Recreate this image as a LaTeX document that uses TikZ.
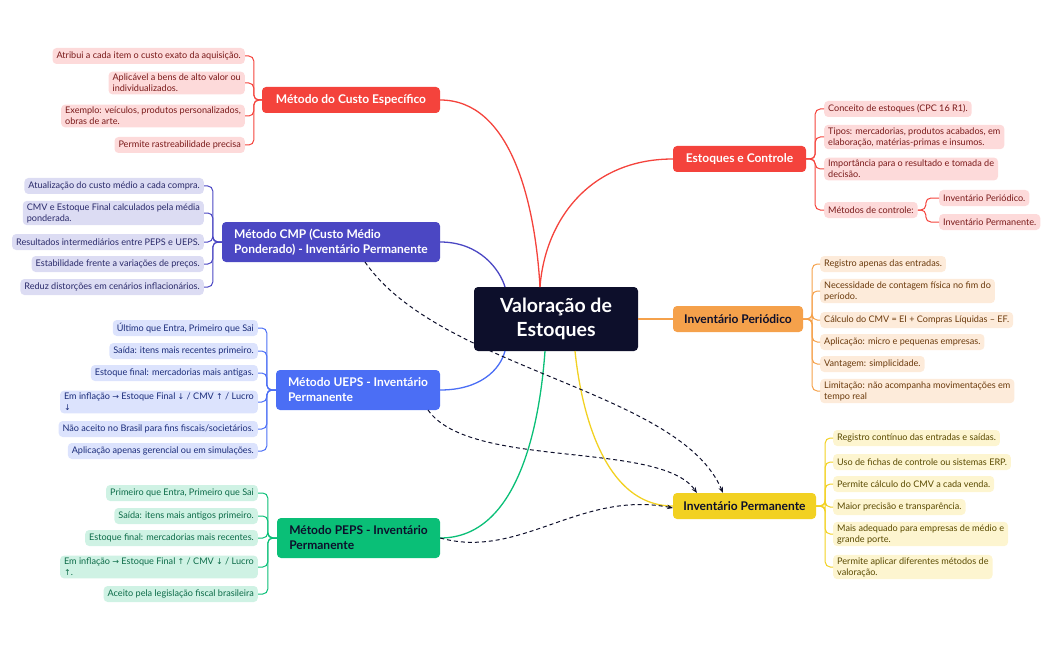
\documentclass[tikz,border=0pt]{standalone}
\usepackage{fontspec}
\setmainfont{Lato}
\newfontfamily\symf{DejaVu Sans}
\newcommand{\ar}[1]{{\symf\fontsize{8}{10}\selectfont #1}}
\usetikzlibrary{arrows.meta}
\definecolor{cred}{HTML}{F4433C}\definecolor{lred}{HTML}{FDDADA}\definecolor{tred}{HTML}{7A1A1A}
\definecolor{cpur}{HTML}{4B47C3}\definecolor{lpur}{HTML}{DCDCF3}\definecolor{tpur}{HTML}{2A2A6A}
\definecolor{cblu}{HTML}{4B6EF5}\definecolor{lblu}{HTML}{DCE3FD}\definecolor{tblu}{HTML}{1B2C7A}
\definecolor{cgre}{HTML}{0ABF77}\definecolor{lgre}{HTML}{CFF2E4}\definecolor{tgre}{HTML}{0C6B48}
\definecolor{cora}{HTML}{F5A14B}\definecolor{lora}{HTML}{FDEBDA}\definecolor{tora}{HTML}{6B3A0C}
\definecolor{cyel}{HTML}{F2D122}\definecolor{lyel}{HTML}{FDF5D0}\definecolor{tyel}{HTML}{5A4A00}
\definecolor{navy}{HTML}{0D0F2B}
\begin{document}
\begin{tikzpicture}[x=1pt,y=-1pt,
 leaf/.style={rounded corners=4pt,inner xsep=4pt,inner ysep=2.5pt,minimum height=16pt,align=left,font=\fontsize{9.1}{11}\selectfont},
 mainbox/.style={rounded corners=4pt,inner xsep=8pt,inner ysep=4pt,minimum height=26pt,align=left,font=\fontsize{12}{15}\selectfont\bfseries},
 br/.style={rounded corners=5pt,line width=1pt},
 dasharrow/.style={dash pattern=on 4pt off 3pt,line width=1pt,navy,-{Stealth[length=6pt]}}]
\useasboundingbox (0,0) rectangle (1050,650);
% root
\node[fill=navy,text=white,rounded corners=4pt,minimum width=164pt,minimum height=64pt,align=center,font=\fontsize{19.5}{24}\selectfont\bfseries] (root) at (556,319) {Valoração de\\Estoques};
% main nodes
\node[mainbox,fill=cred,text=white,minimum width=178pt,align=center] (ce) at (351,100) {Método do Custo Específico};
\node[mainbox,fill=cpur,text=white,minimum width=218pt,minimum height=40pt] (cmp) at (331,242) {Método CMP (Custo Médio\\Ponderado) - Inventário Permanente};
\node[mainbox,fill=cblu,text=white,minimum width=164pt,minimum height=40pt] (ue) at (358,390) {Método UEPS - Inventário\\Permanente};
\node[mainbox,fill=cgre,text=navy,minimum width=163pt,minimum height=40pt] (pe) at (358.5,538) {Método PEPS - Inventário\\Permanente};
\node[mainbox,fill=cred,text=white,minimum width=133pt,align=center] (ec) at (739.5,159) {Estoques e Controle};
\node[mainbox,fill=cora,text=navy,minimum width=130pt,align=center] (ip) at (738,319) {Inventário Periódico};
\node[mainbox,fill=cyel,text=navy,minimum width=143pt,align=center] (iv) at (744.5,506) {Inventário Permanente};
% root links
\draw[cred,line width=1.3pt] (ce.east) .. controls (510,100) and (535,200) .. (540,287);
\draw[cpur,line width=1.3pt] (cmp.east) .. controls (480,242) and (500,270) .. (505,287);
\draw[cblu,line width=1.3pt] (ue.east) .. controls (480,390) and (500,370) .. (505,351);
\draw[cgre,line width=1.3pt] (pe.east) .. controls (520,538) and (540,420) .. (545,351);
\draw[cred,line width=1.3pt] (ec.west) .. controls (590,159) and (545,220) .. (540,287);
\draw[cora,line width=1.3pt] (root.east) -- (ip.west);
\draw[cyel,line width=1.3pt] (iv.west) .. controls (600,506) and (580,400) .. (575,351);
% dashed arrows
\coordinate (s1) at (365,262);
\coordinate (s2) at (428,410);
\coordinate (t1) at (723,493);
\coordinate (t2) at (697,493);
\coordinate (t3) at (673,508);
\draw[dasharrow] (s1) .. controls (440,370) and (680,390) .. (t1);
\draw[dasharrow] (s2) .. controls (470,470) and (660,440) .. (t2);
\draw[dasharrow] (pe.east) .. controls (520,560) and (580,490) .. (t3);
% Custo leaves
\begin{scope}[every node/.style={leaf,fill=lred,text=tred,anchor=east}]
\node (a1) at (245,56) {Atribui a cada item o custo exato da aquisição.};
\node (a2) at (245,83) {Aplicável a bens de alto valor ou\\individualizados.};
\node (a3) at (245,116) {Exemplo: veículos, produtos personalizados,\\obras de arte.};
\node (a4) at (245,145) {Permite rastreabilidade precisa};
\end{scope}
\foreach \n in {a1,a2,a3,a4} \draw[br,cred] (ce.west) -- ++(-8,0) |- (\n.east);
% CMP leaves
\begin{scope}[every node/.style={leaf,fill=lpur,text=tpur,anchor=east}]
\node (b1) at (204,186) {Atualização do custo médio a cada compra.};
\node (b2) at (204,213) {CMV e Estoque Final calculados pela média\\ponderada.};
\node (b3) at (204,242) {Resultados intermediários entre PEPS e UEPS.};
\node (b4) at (204,264) {Estabilidade frente a variações de preços.};
\node (b5) at (204,287) {Reduz distorções em cenários inflacionários.};
\end{scope}
\foreach \n in {b1,b2,b3,b4,b5} \draw[br,cpur] (cmp.west) -- ++(-9,0) |- (\n.east);
% UEPS leaves
\begin{scope}[every node/.style={leaf,fill=lblu,text=tblu,anchor=east}]
\node (c1) at (258,328) {Último que Entra, Primeiro que Sai};
\node (c2) at (258,351) {Saída: itens mais recentes primeiro.};
\node (c3) at (258,373) {Estoque final: mercadorias mais antigas.};
\node (c4) at (258,402) {Em inflação \ar{→} Estoque Final \ar{↓} / CMV \ar{↑} / Lucro\\\ar{↓}};
\node (c5) at (258,429) {Não aceito no Brasil para fins fiscais/societários.};
\node (c6) at (258,451) {Aplicação apenas gerencial ou em simulações.};
\end{scope}
\foreach \n in {c1,c2,c3,c4,c5,c6} \draw[br,cblu] (ue.west) -- ++(-9,0) |- (\n.east);
% PEPS leaves
\begin{scope}[every node/.style={leaf,fill=lgre,text=tgre,anchor=east}]
\node (d1) at (258,493) {Primeiro que Entra, Primeiro que Sai};
\node (d2) at (258,516) {Saída: itens mais antigos primeiro.};
\node (d3) at (258,538) {Estoque final: mercadorias mais recentes.};
\node (d4) at (258,567) {Em inflação \ar{→} Estoque Final \ar{↑} / CMV \ar{↓} / Lucro\\\ar{↑}.};
\node (d5) at (258,594) {Aceito pela legislação fiscal brasileira};
\end{scope}
\foreach \n in {d1,d2,d3,d4,d5} \draw[br,cgre] (pe.west) -- ++(-9,0) |- (\n.east);
% Estoques leaves
\begin{scope}[every node/.style={leaf,fill=lred,text=tred,anchor=west}]
\node (e1) at (824,109) {Conceito de estoques (CPC 16 R1).};
\node (e2) at (824,137) {Tipos: mercadorias, produtos acabados, em\\elaboração, matérias-primas e insumos.};
\node (e3) at (824,169) {Importância para o resultado e tomada de\\decisão.};
\node (e4) at (824,210) {Métodos de controle:};
\node (e5) at (939,198) {Inventário Periódico.};
\node (e6) at (939,222) {Inventário Permanente.};
\end{scope}
\foreach \n in {e1,e2,e3,e4} \draw[br,cred] (ec.east) -- ++(9,0) |- (\n.west);
\foreach \n in {e5,e6} \draw[br,cred] (e4.east) -- ++(8,0) |- (\n.west);
% Periodico leaves
\begin{scope}[every node/.style={leaf,fill=lora,text=tora,anchor=west}]
\node (f1) at (820,264) {Registro apenas das entradas.};
\node (f2) at (820,291) {Necessidade de contagem física no fim do\\período.};
\node (f3) at (820,320) {Cálculo do CMV = EI + Compras Líquidas – EF.};
\node (f4) at (820,342) {Aplicação: micro e pequenas empresas.};
\node (f5) at (820,364) {Vantagem: simplicidade.};
\node (f6) at (820,391) {Limitação: não acompanha movimentações em\\tempo real};
\end{scope}
\foreach \n in {f1,f2,f3,f4,f5,f6} \draw[br,cora] (ip.east) -- ++(9,0) |- (\n.west);
% Permanente leaves
\begin{scope}[every node/.style={leaf,fill=lyel,text=tyel,anchor=west}]
\node (g1) at (833,438) {Registro contínuo das entradas e saídas.};
\node (g2) at (833,462) {Uso de fichas de controle ou sistemas ERP.};
\node (g3) at (833,484) {Permite cálculo do CMV a cada venda.};
\node (g4) at (833,507) {Maior precisão e transparência.};
\node (g5) at (833,534) {Mais adequado para empresas de médio e\\grande porte.};
\node (g6) at (833,567) {Permite aplicar diferentes métodos de\\valoração.};
\end{scope}
\foreach \n in {g1,g2,g3,g4,g5,g6} \draw[br,cyel] (iv.east) -- ++(9,0) |- (\n.west);
\end{tikzpicture}
\end{document}
